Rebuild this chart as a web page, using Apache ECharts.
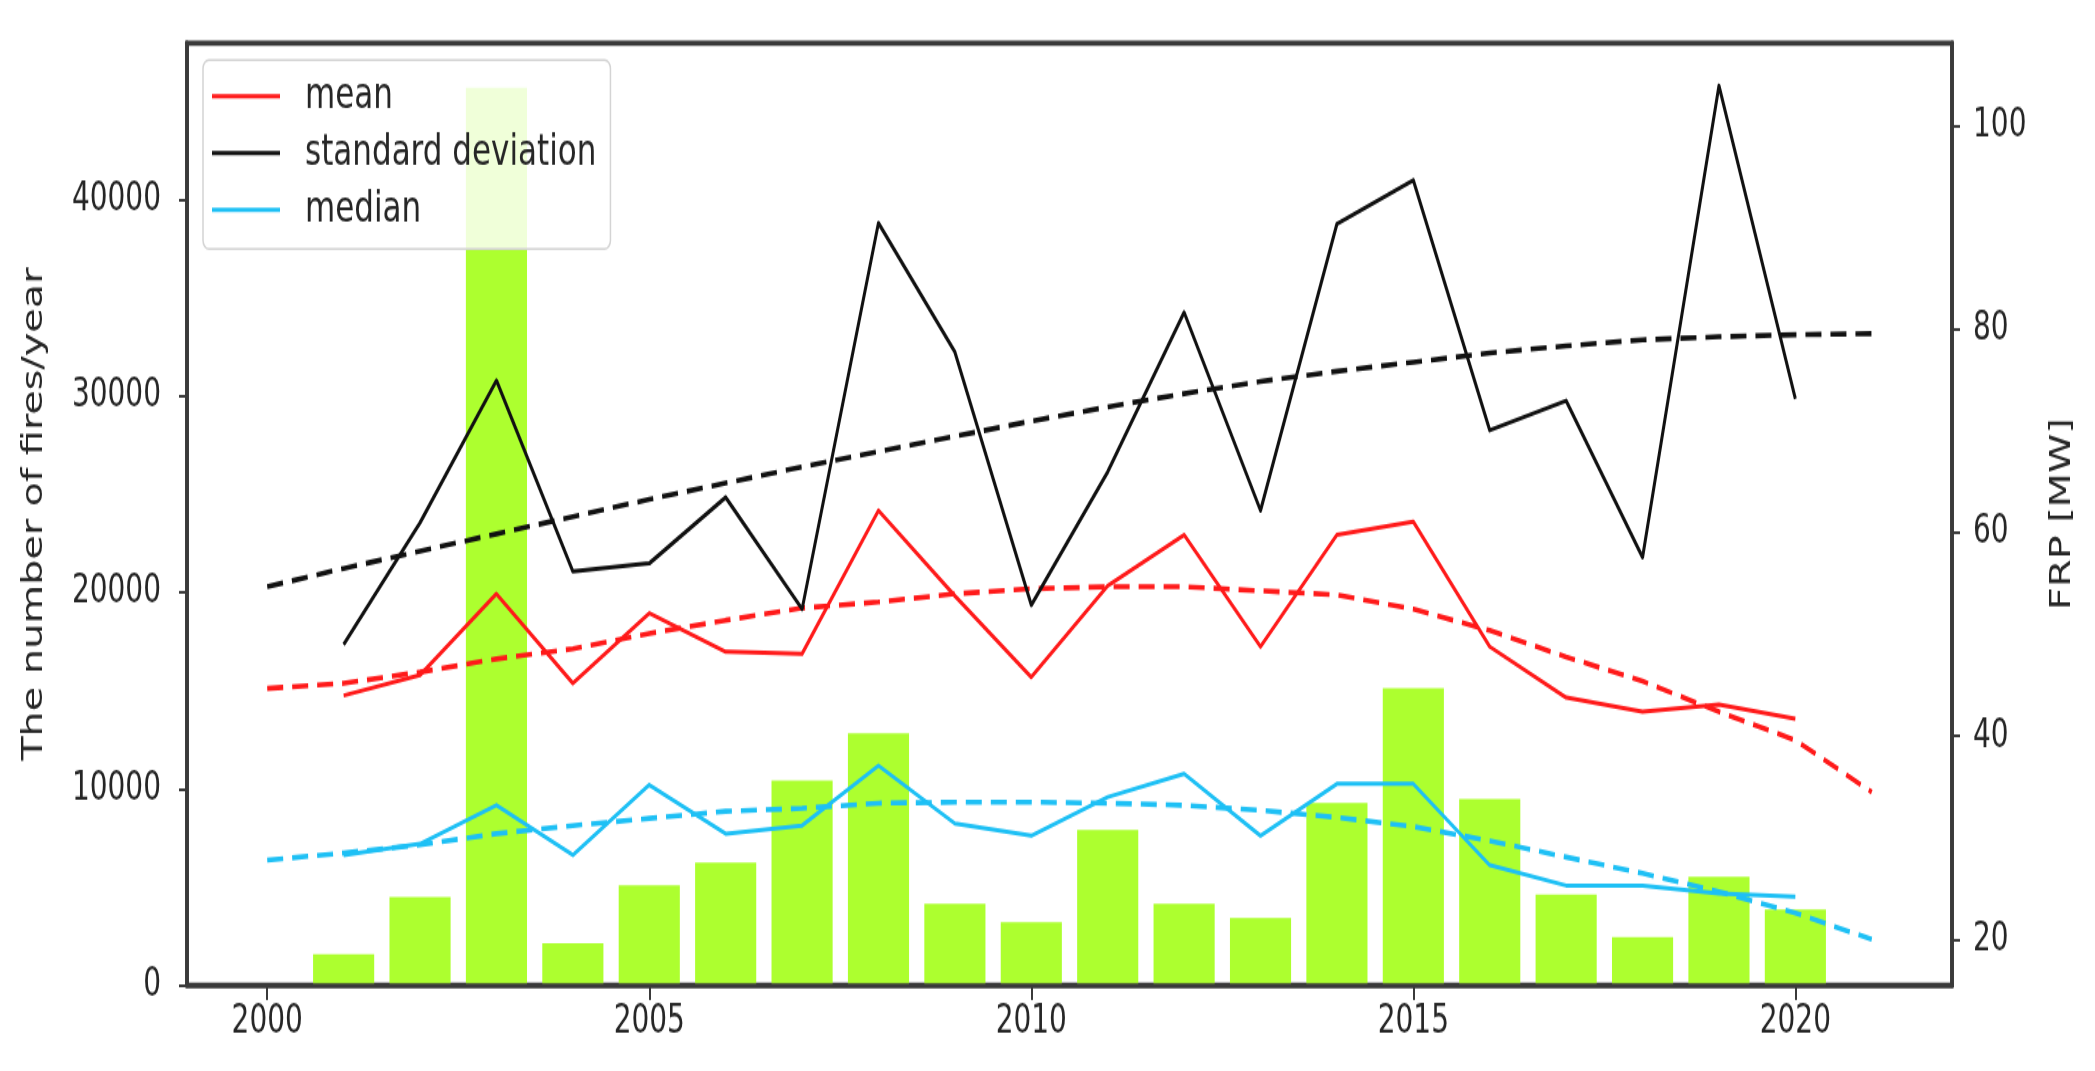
<!DOCTYPE html>
<html><head><meta charset="utf-8">
<script src="https://cdn.jsdelivr.net/npm/echarts@6/dist/echarts.min.js"></script>
<style>
html,body{margin:0;padding:0;background:#fff;overflow:hidden;}
#wrap{width:2095px;height:1071px;overflow:hidden;background:#fff;}
#chart{width:2095px;height:754px;transform:scaleY(1.42042);transform-origin:0 0;}
</style></head>
<body><div id="wrap"><div id="chart"></div></div>
<script>
// ---- data ----
const barYears = [2001,2002,2003,2004,2005,2006,2007,2008,2009,2010,2011,2012,2013,2014,2015,2016,2017,2018,2019,2020];
const fires = [1570,4480,45730,2140,5090,6240,10430,12820,4150,3200,7910,4150,3420,9280,15130,9490,4620,2440,5520,3850];
const meanFRP = [44.0,46.0,54.0,45.2,52.1,48.3,48.1,62.2,53.8,45.8,54.8,59.8,48.8,59.8,61.1,48.8,43.8,42.4,43.1,41.7];
const stdFRP = [49.0,61.0,75.0,56.2,57.0,63.5,52.5,90.5,77.8,52.9,66.0,81.7,62.2,90.4,94.7,70.1,73.0,57.6,104.0,73.2];
const medianFRP = [28.3,29.4,33.2,28.3,35.2,30.4,31.2,37.1,31.4,30.2,34.0,36.3,30.2,35.3,35.3,27.3,25.3,25.3,24.5,24.2];
const trendYears = [2000,2001,2002,2003,2004,2005,2006,2007,2008,2009,2010,2011,2012,2013,2014,2015,2016,2017,2018,2019,2020,2021];
const meanTrend = [44.7,45.2,46.3,47.6,48.6,50.1,51.4,52.6,53.2,54.0,54.5,54.7,54.7,54.3,53.9,52.5,50.4,47.8,45.4,42.4,39.6,34.5];
const stdTrend = [54.7,56.5,58.2,59.9,61.6,63.3,64.9,66.5,68.0,69.5,71.0,72.4,73.7,74.9,75.9,76.8,77.7,78.4,79.0,79.3,79.5,79.6];
const medianTrend = [27.8,28.5,29.3,30.4,31.2,31.9,32.6,32.9,33.4,33.5,33.5,33.4,33.2,32.7,32.0,31.1,29.7,28.1,26.5,24.7,22.6,20.0];
const xTicks = [2000,2005,2010,2015,2020];
const yLeftTicks = [0,10000,20000,30000,40000];
const yRightTicks = [20,40,60,80,100];
const legendNames = ['mean','standard deviation','median'];

// ---- layout ----
const W = 2095, H = 754;
const grid = {left:187, right:143, top:30.3, bottom:60.5};
const xMin = 1998.95, xMax = 2022.05;
const pxPerYear = (W - grid.left - grid.right) / (xMax - xMin);
const pair = (xs, ys) => xs.map((x, i) => [x, ys[i]]);

const FONT = 'DejaVu Sans';
const TXT = '#262626';
const SPINE = '#3a3a3a';
const RED = '#ff1a1a', BLACK = '#111111', BLUE = '#1ec0f5', GREEN = '#adff2f';

const chart = echarts.init(document.getElementById('chart'), null, {renderer:'canvas', width:W, height:H});

function solid(name, ys, color) {
  return {type:'line', name, xAxisIndex:0, yAxisIndex:1, data:pair(barYears, ys),
    symbol:'none', z:4, itemStyle:{color},
    lineStyle:{color, width:3.0, join:'round'}};
}
function dashed(name, ys, color) {
  return {type:'line', name, xAxisIndex:0, yAxisIndex:1, data:pair(trendYears, ys),
    symbol:'none', z:3, itemStyle:{color},
    lineStyle:{color, width:3.6, type:[16,9]}};
}

chart.setOption({
  animation:false,
  backgroundColor:'#fff',
  grid:{left:grid.left, right:grid.right, top:grid.top, bottom:grid.bottom,
        show:true, borderColor:SPINE, borderWidth:3.7, backgroundColor:'transparent'},
  legend:{
    data:legendNames, orient:'vertical', left:203, top:42.2,
    padding:[10,14,12,9], itemGap:9, itemWidth:68, itemHeight:3, icon:'rect',
    backgroundColor:'rgba(255,255,255,0.82)', borderColor:'#d4d4d4', borderWidth:1.5, borderRadius:6,
    textStyle:{fontFamily:FONT, fontSize:31, color:TXT, padding:[0,0,0,20]},
    z:10
  },
  xAxis:{
    type:'value', min:xMin, max:xMax, z:5,
    axisLine:{show:true, onZero:false, lineStyle:{color:SPINE, width:3.7}},
    axisTick:{show:true, length:10.5, customValues:xTicks, lineStyle:{color:SPINE, width:2}},
    axisLabel:{customValues:xTicks, margin:12, fontFamily:FONT, fontSize:28, color:TXT,
      formatter:v => String(v)},
    splitLine:{show:false}
  },
  yAxis:[{
    type:'value', min:0, max:48000, position:'left', z:5,
    name:'The number of fires/year', nameLocation:'middle', nameGap:138, nameRotate:90,
    nameTextStyle:{fontFamily:FONT, fontSize:28, color:TXT},
    axisLine:{show:true, onZero:false, lineStyle:{color:SPINE, width:3.7}},
    axisTick:{show:true, length:8, customValues:yLeftTicks, lineStyle:{color:SPINE, width:2}},
    axisLabel:{customValues:yLeftTicks, margin:26, fontFamily:FONT, fontSize:28, color:TXT,
      formatter:v => String(v)},
    splitLine:{show:false}
  },{
    type:'value', min:15.5, max:108.2, position:'right', z:5,
    name:'FRP [MW]', nameLocation:'middle', nameGap:97, nameRotate:90,
    nameTextStyle:{fontFamily:FONT, fontSize:28, color:TXT},
    axisLine:{show:true, onZero:false, lineStyle:{color:SPINE, width:3.7}},
    axisTick:{show:true, length:8, customValues:yRightTicks, lineStyle:{color:SPINE, width:2}},
    axisLabel:{customValues:yRightTicks, margin:21, fontFamily:FONT, fontSize:28, color:TXT,
      formatter:v => String(v)},
    splitLine:{show:false}
  }],
  series:[
    {type:'bar', name:'fires', xAxisIndex:0, yAxisIndex:0, data:pair(barYears, fires),
     barWidth:0.8*pxPerYear, itemStyle:{color:GREEN}, z:1},
    dashed('mean trend', meanTrend, RED),
    dashed('standard deviation trend', stdTrend, BLACK),
    dashed('median trend', medianTrend, BLUE),
    solid('mean', meanFRP, RED),
    solid('standard deviation', stdFRP, BLACK),
    solid('median', medianFRP, BLUE)
  ]
});
</script>
</body></html>
